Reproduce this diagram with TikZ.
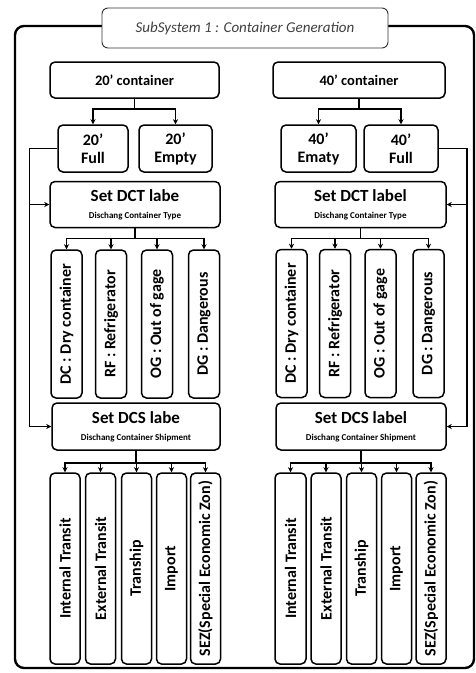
\documentclass[tikz,border=0pt]{standalone}
\usepackage{fontspec}
\usepackage{graphicx}
\setmainfont{Carlito}
\usetikzlibrary{arrows.meta}
\newcommand{\subfnt}{\bfseries\fontsize{9}{10}\selectfont}
\begin{document}
\begin{tikzpicture}[x=1pt,y=-1pt,
  box/.style={draw, line width=1.5pt, rounded corners=5pt, align=center, inner sep=0pt, font=\bfseries},
  topbox/.style={box, minimum width=170pt, minimum height=36pt, font=\bfseries\fontsize{14.5}{16}\selectfont},
  sizebox/.style={box, minimum width=72pt, minimum height=47pt, font=\bfseries\fontsize{16}{18}\selectfont},
  labbox/.style={box, minimum width=170pt, minimum height=46pt, font=\bfseries\fontsize{17}{18}\selectfont},
  vbox/.style={box, minimum width=31pt, minimum height=148pt, font=\bfseries\fontsize{16}{18}\selectfont},
  wbox/.style={box, minimum width=30pt, minimum height=191pt, font=\bfseries\fontsize{16}{18}\selectfont},
  frame/.style={draw, line width=2.4pt, rounded corners=9pt, minimum width=459pt, minimum height=642pt, inner sep=0pt},
  title/.style={draw=black!80, line width=0.9pt, rounded corners=6pt, fill=white, minimum width=286pt, minimum height=40pt, inner sep=0pt, text=black!75, font=\itshape\fontsize{15}{17}\selectfont},
  conn/.style={line width=1.5pt},
  arr/.style={conn, -{Stealth[length=5pt,width=5pt]}},
]
\useasboundingbox (0,0) rectangle (476,673);
\node[frame] (frame) at (244.5,347) {};
\node[title] (title) at (245,28) {SubSystem 1 : Container Generation};

% ---------- left column ----------
\node[topbox, minimum width=169pt] (c20) at (134.5,80) {20' container};
\node[sizebox, minimum width=70pt] (f20) at (93,148.5) {20'\\Full};
\node[sizebox, minimum width=73pt] (e20) at (175.5,148.5) {20'\\Empty};
\node[labbox] (dct20) at (135,204.5) {Set DCT labe\\[-1pt]{\subfnt Dischang Container Type}};
\node[vbox] (dc20) at (66.5,324) {\rotatebox{90}{DC : Dry container}};
\node[vbox] (rf20) at (111,324) {\rotatebox{90}{RF : Refrigerator}};
\node[vbox] (og20) at (157,324) {\rotatebox{90}{OG : Out of gage}};
\node[vbox] (dg20) at (204,324) {\rotatebox{90}{DG : Dangerous}};
\node[labbox, minimum width=168pt, minimum height=47pt] (dcs20) at (136,426.5) {Set DCS labe\\[-1pt]{\subfnt Dischang Container Shipment}};
\node[wbox] (it20) at (65,568.5) {\rotatebox{90}{Internal Transit}};
\node[wbox] (et20) at (100.5,568.5) {\rotatebox{90}{External Transit}};
\node[wbox] (ts20) at (136.5,568.5) {\rotatebox{90}{Tranship}};
\node[wbox] (im20) at (171.5,568.5) {\rotatebox{90}{Import}};
\node[wbox] (sz20) at (205.5,568.5) {\rotatebox{90}{SEZ(Special Economic Zon)}};

% ---------- right column ----------
\node[topbox, minimum width=172pt] (c40) at (359,80) {40' container};
\node[sizebox, minimum width=75pt] (e40) at (318.5,148.5) {40'\\Ematy};
\node[sizebox, minimum width=74pt] (f40) at (401,148.5) {40'\\Full};
\node[labbox, minimum width=171pt] (dct40) at (360.5,204.5) {Set DCT label\\[-1pt]{\subfnt Dischang Container Type}};
\node[vbox] (dc40) at (291.5,323.5) {\rotatebox{90}{DC : Dry container}};
\node[vbox] (rf40) at (335,323.5) {\rotatebox{90}{RF : Refrigerator}};
\node[vbox] (og40) at (380.5,323.5) {\rotatebox{90}{OG : Out of gage}};
\node[vbox] (dg40) at (428.5,323.5) {\rotatebox{90}{DG : Dangerous}};
\node[labbox, minimum width=170pt, minimum height=47pt] (dcs40) at (361,426.5) {Set DCS label\\[-1pt]{\subfnt Dischang Container Shipment}};
\node[wbox, minimum width=31pt] (it40) at (290.5,568.5) {\rotatebox{90}{Internal Transit}};
\node[wbox] (et40) at (326,568.5) {\rotatebox{90}{External Transit}};
\node[wbox] (ts40) at (361.5,568.5) {\rotatebox{90}{Tranship}};
\node[wbox] (im40) at (396.5,568.5) {\rotatebox{90}{Import}};
\node[wbox] (sz40) at (431,568.5) {\rotatebox{90}{SEZ(Special Economic Zon)}};

% ---------- connectors left ----------
\draw[conn] (c20.south) -- ++(0,10) coordinate (j20);
\draw[arr] (j20) -| (f20.north);
\draw[arr] (j20) -| (e20.north);
\draw[arr] (f20.west) -- ++(-28,0) coordinate (l20) |- (dct20.west);
\draw[arr] (l20) |- (dcs20.west);
\draw[conn] (dct20.south) -- ++(0,10) coordinate (k20);
\foreach \n in {dc20,rf20,og20,dg20} \draw[arr] (k20) -| (\n.north);
\draw[conn] (dcs20.south) -- ++(0,12) coordinate (m20);
\foreach \n in {it20,et20,ts20,im20,sz20} \draw[arr] (m20) -| (\n.north);

% ---------- connectors right ----------
\draw[conn] (c40.south) -- ++(0,10) coordinate (j40);
\draw[arr] (j40) -| (e40.north);
\draw[arr] (j40) -| (f40.north);
\draw[arr] (f40.east) -- ++(28,0) coordinate (l40) |- (dct40.east);
\draw[arr] (l40) |- (dcs40.east);
\draw[conn] (dct40.south) -- ++(0,10) coordinate (k40);
\foreach \n in {dc40,rf40,og40,dg40} \draw[arr] (k40) -| (\n.north);
\draw[conn] (dcs40.south) -- ++(0,12) coordinate (m40);
\foreach \n in {it40,et40,ts40,im40,sz40} \draw[arr] (m40) -| (\n.north);
\end{tikzpicture}
\end{document}
